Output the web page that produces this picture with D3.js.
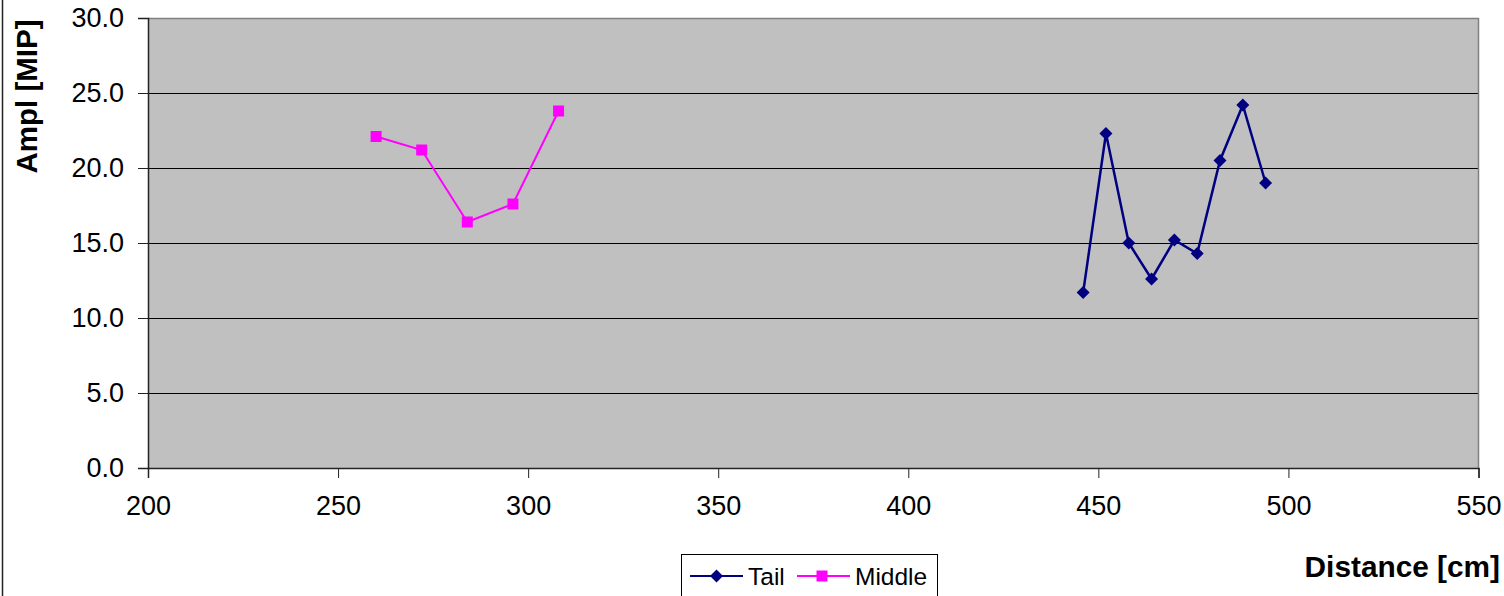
<!DOCTYPE html>
<html>
<head>
<meta charset="utf-8">
<script src="https://cdn.jsdelivr.net/npm/d3@7/dist/d3.min.js"></script>
<style>
  html, body { margin: 0; padding: 0; background: #fff; }
  svg { display: block; font-family: "Liberation Sans", Arial, sans-serif; }
</style>
</head>
<body>
<svg id="chart" width="1504" height="596"></svg>
<script>
const tailX = [446, 452, 458, 464, 470, 476, 482, 488, 494];
const tailY = [11.7, 22.3, 15.0, 12.6, 15.2, 14.3, 20.5, 24.2, 19.0];
const middleX = [260, 272, 284, 296, 308];
const middleY = [22.1, 21.2, 16.4, 17.6, 23.8];
const xTicks = [200, 250, 300, 350, 400, 450, 500, 550];
const yTicks = [0, 5, 10, 15, 20, 25, 30];
const seriesNames = ["Tail", "Middle"];
const xTitle = "Distance [cm]";
const yTitle = "Ampl [MIP]";

const svg = d3.select("#chart");
const L = 148, R = 1478.5, T = 18, B = 468;
const x = d3.scaleLinear().domain([200, 550]).range([L, R]);
const y = d3.scaleLinear().domain([0, 30]).range([B, T]);

// outer chart border (left edge visible)
svg.append("line").attr("x1", 2.5).attr("x2", 2.5).attr("y1", 0).attr("y2", 596)
  .attr("stroke", "#222").attr("stroke-width", 1.5);

// plot background
svg.append("rect").attr("x", L).attr("y", T).attr("width", R - L).attr("height", B - T)
  .attr("fill", "#C0C0C0");

// gridlines
svg.append("g").selectAll("line").data(yTicks.filter(v => v > 0 && v < 30)).join("line")
  .attr("x1", L).attr("x2", R)
  .attr("y1", d => Math.round(y(d)) + 0.5).attr("y2", d => Math.round(y(d)) + 0.5)
  .attr("stroke", "#000").attr("stroke-width", 1);

// top & right border
svg.append("path")
  .attr("d", `M${L},${T + 0.5}H${R}V${B}`)
  .attr("fill", "none").attr("stroke", "#808080").attr("stroke-width", 1.5);

// axes
const yAxis = svg.append("g").attr("transform", `translate(${L},0)`)
  .call(d3.axisLeft(y).tickValues(yTicks).tickFormat(d3.format(".1f")).tickSize(10).tickPadding(14));
const xAxis = svg.append("g").attr("transform", `translate(0,${B})`)
  .call(d3.axisBottom(x).tickValues(xTicks).tickFormat(d3.format("d")).tickSize(10).tickPadding(22));
[yAxis, xAxis].forEach(g => {
  g.selectAll("path.domain").attr("stroke", "#222").attr("stroke-width", 1.5);
  g.selectAll(".tick line").attr("stroke", "#222").attr("stroke-width", 1);
  g.selectAll("text").attr("fill", "#000").style("font-size", "27px")
    .style("font-family", "'Liberation Sans', Arial, sans-serif");
});
xAxis.selectAll("text").attr("dy", "0.55em");

// series
const line = d3.line().x(d => x(d[0])).y(d => y(d[1]));
const tail = tailX.map((v, i) => [v, tailY[i]]);
const middle = middleX.map((v, i) => [v, middleY[i]]);

svg.append("path").datum(middle).attr("d", line).attr("fill", "none")
  .attr("stroke", "#FF00FF").attr("stroke-width", 2);
svg.append("g").selectAll("rect").data(middle).join("rect")
  .attr("x", d => x(d[0]) - 5.5).attr("y", d => y(d[1]) - 5.5)
  .attr("width", 11).attr("height", 11).attr("fill", "#FF00FF");

svg.append("path").datum(tail).attr("d", line).attr("fill", "none")
  .attr("stroke", "#000080").attr("stroke-width", 2.5);
const diamond = s => `M0,${-s}L${s},0L0,${s}L${-s},0Z`;
svg.append("g").selectAll("path").data(tail).join("path")
  .attr("transform", d => `translate(${x(d[0])},${y(d[1])})`)
  .attr("d", diamond(6.5)).attr("fill", "#000080");

// axis titles
svg.append("text").attr("x", 1500).attr("y", 577).attr("text-anchor", "end")
  .style("font-size", "29.8px").style("font-weight", "bold").text(xTitle);
svg.append("text").attr("transform", "translate(37,96.5) rotate(-90)").attr("text-anchor", "middle")
  .style("font-size", "29.5px").style("font-weight", "bold").text(yTitle);

// legend
const lg = svg.append("g");
lg.append("rect").attr("x", 681.5).attr("y", 554.5).attr("width", 256).attr("height", 60)
  .attr("fill", "#fff").attr("stroke", "#000").attr("stroke-width", 1);
const ly = 576;
// Tail
lg.append("line").attr("x1", 690).attr("x2", 743).attr("y1", ly).attr("y2", ly)
  .attr("stroke", "#000080").attr("stroke-width", 2);
lg.append("path").attr("transform", `translate(716.5,${ly})`).attr("d", diamond(6.5)).attr("fill", "#000080");
lg.append("text").attr("x", 748).attr("y", ly + 8.5).style("font-size", "24.5px").text(seriesNames[0]);
// Middle
lg.append("line").attr("x1", 797).attr("x2", 850).attr("y1", ly).attr("y2", ly)
  .attr("stroke", "#FF00FF").attr("stroke-width", 2);
lg.append("rect").attr("x", 822 - 5.5).attr("y", ly - 5.5).attr("width", 11).attr("height", 11).attr("fill", "#FF00FF");
lg.append("text").attr("x", 855).attr("y", ly + 8.5).style("font-size", "24.5px").text(seriesNames[1]);
</script>
</body>
</html>
